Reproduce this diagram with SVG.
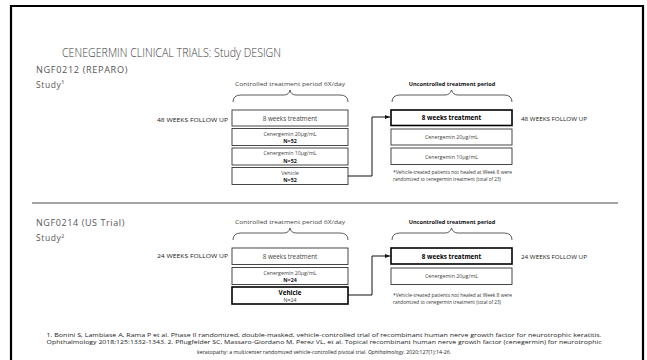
<svg xmlns="http://www.w3.org/2000/svg" width="647" height="360" viewBox="0 0 647 360">
<style>
text{font-family:"Open Sans","Liberation Sans",sans-serif;}
.title{font-size:13.5px;fill:#3a3a3a;font-weight:300;}
.study{font-size:8.5px;fill:#555;letter-spacing:0.6px;}
.fu{font-size:5.6px;fill:#222;}
.hdr{font-size:5.6px;fill:#444;text-anchor:middle;}
.hdrb{font-size:5.6px;fill:#111;font-weight:bold;text-anchor:middle;}
.box{fill:#fff;stroke:#333;stroke-width:0.9;}
.boxb{fill:#fff;stroke:#000;stroke-width:1.6;}
.bt{font-size:6.3px;fill:#444;text-anchor:middle;}
.bs{font-size:5.3px;fill:#444;text-anchor:middle;}
.bn{font-size:5.3px;fill:#111;text-anchor:middle;font-weight:bold;}
.bb{font-size:6.3px;fill:#000;text-anchor:middle;font-weight:bold;}
.note{font-size:5.4px;fill:#333;}
.ref{font-size:5.3px;fill:#222;text-anchor:middle;}
.brace{fill:none;stroke:#333;stroke-width:0.8;}
.conn{fill:none;stroke:#111;stroke-width:1;}
</style>
<defs>
<marker id="arr" markerWidth="6" markerHeight="6" refX="5" refY="3" orient="auto" markerUnits="userSpaceOnUse">
<path d="M0,1 L5,3 L0,5 z" fill="#111"/>
</marker>
</defs>
<rect x="0" y="0" width="647" height="360" fill="#fff"/>
<path d="M11,362 L11,6 L643,6 L643,362" fill="none" stroke="#000" stroke-width="2.2"/>
<text class="title" x="62" y="57" textLength="219" lengthAdjust="spacingAndGlyphs">CENEGERMIN CLINICAL TRIALS: Study DESIGN</text>

<g id="study1-label">
<text class="study" x="36" y="73" textLength="92" lengthAdjust="spacingAndGlyphs">NGF0212 (REPARO)</text>
<text class="study" x="36" y="88">Study¹</text>
</g>
<g id="fu48-left"><text class="fu" x="228" y="122" text-anchor="end" textLength="71" lengthAdjust="spacingAndGlyphs">48 WEEKS FOLLOW UP</text></g>
<g id="ctrl1-header">
<text class="hdr" x="290" y="86" textLength="110" lengthAdjust="spacingAndGlyphs">Controlled treatment period 6X/day</text>
<path class="brace" d="M233,102 Q233,95 241,95 L284,95 Q289,95 290,90 Q291,95 296,95 L340,95 Q348,95 348,102"/>
</g>
<g id="s1-l1"><rect class="box" x="232" y="110" width="116" height="16"/><text class="bt" x="290" y="120.5">8 weeks treatment</text></g>
<g id="s1-l2"><rect class="box" x="232" y="128.5" width="116" height="17"/><text class="bs" x="290" y="135.5">Cenergemin 20µg/mL</text><text class="bn" x="290" y="143">N=52</text></g>
<g id="s1-l3"><rect class="box" x="232" y="148" width="116" height="17"/><text class="bs" x="290" y="155">Cenergemin 10µg/mL</text><text class="bn" x="290" y="162.5">N=52</text></g>
<g id="s1-l4"><rect class="box" x="232" y="167.5" width="116" height="17"/><text class="bs" x="290" y="174.5">Vehicle</text><text class="bn" x="290" y="182">N=52</text></g>

<g id="unctrl1-header">
<text class="hdrb" x="452" y="86">Uncontrolled treatment period</text>
<path class="brace" d="M392,102 Q392,95 400,95 L445,95 Q450,95 451.5,90 Q453,95 458,95 L504,95 Q512,95 512,102"/>
</g>
<g id="s1-r1"><rect class="boxb" x="391" y="110" width="121" height="15.5"/><text class="bb" x="451.5" y="120">8 weeks treatment</text></g>
<g id="s1-r2"><rect class="box" x="391" y="129" width="121" height="16"/><text class="bs" x="451.5" y="139">Cenergemin 20µg/mL</text></g>
<g id="s1-r3"><rect class="box" x="391" y="148" width="121" height="16.5"/><text class="bs" x="451.5" y="158.5">Cenergemin 10µg/mL</text></g>
<g id="fu48-right"><text class="fu" x="521" y="120.5" textLength="66" lengthAdjust="spacingAndGlyphs">48 WEEKS FOLLOW UP</text></g>
<g id="note1">
<text class="note" x="393" y="174" textLength="119" lengthAdjust="spacingAndGlyphs">*Vehicle-treated patients not healed at Week 8 were</text>
<text class="note" x="393" y="181" textLength="108" lengthAdjust="spacingAndGlyphs">randomized to cenegermin treatment (total of 23)</text>
</g>

<line x1="32" y1="203" x2="618" y2="203" stroke="#333" stroke-width="0.9"/>

<g id="study2-label">
<text class="study" x="36" y="226" textLength="89" lengthAdjust="spacingAndGlyphs">NGF0214 (US Trial)</text>
<text class="study" x="36" y="241">Study²</text>
</g>
<g id="fu24-left"><text class="fu" x="228" y="258" text-anchor="end" textLength="71" lengthAdjust="spacingAndGlyphs">24 WEEKS FOLLOW UP</text></g>
<g id="ctrl2-header">
<text class="hdr" x="290" y="224" textLength="110" lengthAdjust="spacingAndGlyphs">Controlled treatment period 6X/day</text>
<path class="brace" d="M233,240 Q233,233 241,233 L284,233 Q289,233 290,228 Q291,233 296,233 L340,233 Q348,233 348,240"/>
</g>
<g id="s2-l1"><rect class="box" x="232" y="248" width="116" height="16.5"/><text class="bt" x="290" y="258.5">8 weeks treatment</text></g>
<g id="s2-l2"><rect class="box" x="232" y="267.5" width="116" height="17"/><text class="bs" x="290" y="274.5">Cenergemin 20µg/mL</text><text class="bn" x="290" y="282">N=24</text></g>
<g id="s2-l3"><rect class="boxb" x="232" y="287" width="116" height="17"/><text class="bb" x="290" y="294.5">Vehicle</text><text class="bs" x="290" y="302">N=24</text></g>

<g id="unctrl2-header">
<text class="hdrb" x="452" y="224">Uncontrolled treatment period</text>
<path class="brace" d="M392,240 Q392,233 400,233 L445,233 Q450,233 451.5,228 Q453,233 458,233 L504,233 Q512,233 512,240"/>
</g>
<g id="s2-r1"><rect class="boxb" x="391" y="248" width="121" height="16"/><text class="bb" x="451.5" y="258.5">8 weeks treatment</text></g>
<g id="s2-r2"><rect class="box" x="391" y="268" width="121" height="16.5"/><text class="bs" x="451.5" y="278">Cenergemin 20µg/mL</text></g>
<g id="fu24-right"><text class="fu" x="521" y="258.5" textLength="66" lengthAdjust="spacingAndGlyphs">24 WEEKS FOLLOW UP</text></g>
<g id="note2">
<text class="note" x="393" y="297" textLength="119" lengthAdjust="spacingAndGlyphs">*Vehicle-treated patients not healed at Week 8 were</text>
<text class="note" x="393" y="304" textLength="108" lengthAdjust="spacingAndGlyphs">randomized to cenegermin treatment (total of 23)</text>
</g>

<g id="connectors">
<path class="conn" d="M348,176 L372,176 L372,117 L390,117" marker-end="url(#arr)"/>
<path class="conn" d="M348,295 L372,295 L372,256 L390,256" marker-end="url(#arr)"/>
</g>

<g id="references">
<text class="ref" x="324" y="337" textLength="555" lengthAdjust="spacingAndGlyphs">1. Bonini S, Lambiase A, Rama P et al. Phase II randomized, double-masked, vehicle-controlled trial of recombinant human nerve growth factor for neurotrophic keratitis.</text>
<text class="ref" x="324" y="343.5" textLength="555" lengthAdjust="spacingAndGlyphs">Ophthalmology 2018;125:1332-1343. 2. Pflugfelder SC, Massaro-Giordano M, Perez VL, et al. Topical recombinant human nerve growth factor (cenegermin) for neurotrophic</text>
<text class="ref" x="324" y="353.5" textLength="254" lengthAdjust="spacingAndGlyphs">keratopathy: a multicenter randomized vehicle-controlled pivotal trial. <tspan font-style="italic">Ophthalmology</tspan>. 2020;127(1):14-26.</text>
</g>
</svg>
